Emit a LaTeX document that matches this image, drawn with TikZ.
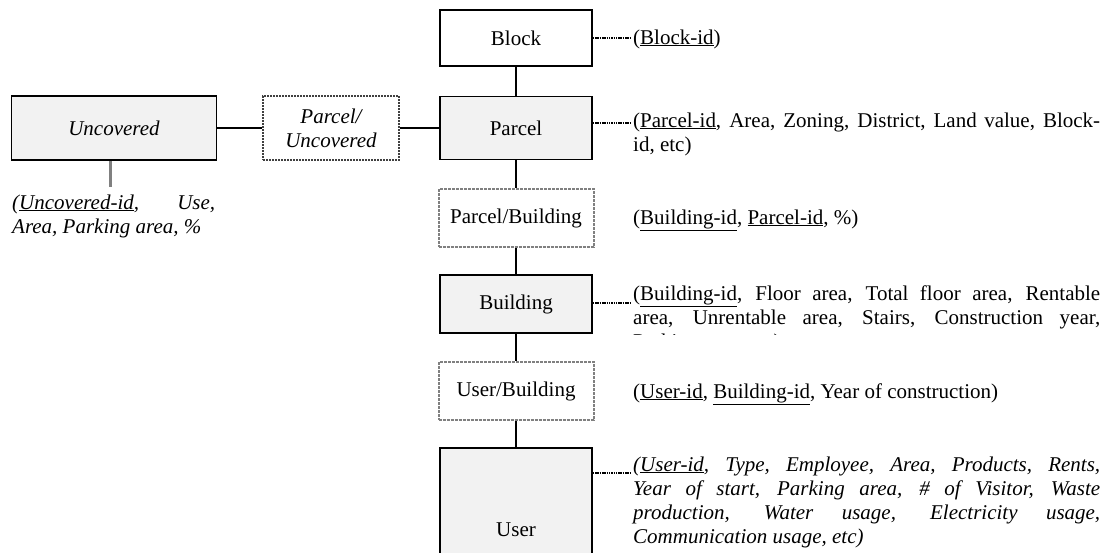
\documentclass[tikz,border=0pt]{standalone}
\usepackage{fontspec}
\setmainfont{Liberation Serif}

\newcommand{\diagfont}{\fontsize{21}{24}\selectfont}

\tikzset{
  entity/.style={draw, line width=1.6pt, fill=black!5, minimum width=152pt, minimum height=58pt, inner sep=0pt},
  relation/.style={draw=gray, dash pattern=on 3pt off 1pt, line width=2pt, fill=white, minimum width=155pt, minimum height=58pt, inner sep=0pt},
  attr/.style={inner sep=0pt, anchor=base west, text width=467pt, align=justify},
  link/.style={line width=1.6pt},
  attrlink/.style={line width=1.4pt, dash pattern=on 1.5pt off 0.8pt}
}

\begin{document}
\begin{tikzpicture}[x=1pt,y=-1pt,font=\diagfont]
\useasboundingbox (0,0) rectangle (1103,552);

% tables
\node [entity, fill=white, minimum height=56pt] (block) at (516,38) {Block};
\node [entity, minimum height=63pt] (parcel) at (516,128) {Parcel};
\node [relation] (parcelbuilding) at (516,218) {Parcel/Building};
\node [entity] (building) at (516,304) {Building};
\node [relation] (userbuilding) at (516,391) {User/Building};
\node [entity, minimum height=164pt] (user) at (516,530) {User};
\node [entity, minimum width=205pt, minimum height=64pt] (uncovered) at (114,128) {\itshape Uncovered};
\node [relation, draw=black!75, densely dotted, minimum width=136pt, minimum height=64pt, align=center] (parceluncovered) at (331,128) {\itshape Parcel/\\\itshape Uncovered};

% relations
\draw [link] (block) -- (parcel);
\draw [link] (parcel) -- (parcelbuilding);
\draw [link] (parcelbuilding) -- (building);
\draw [link] (building) -- (userbuilding);
\draw [link] (userbuilding) -- (user);
\draw [link] (uncovered) -- (parceluncovered);
\draw [link] (parceluncovered) -- (parcel);

% attributes
\node [attr] (blockattr) at (633,44) {(\underline{Block-id})};
\node [attr] (parcelattr) at (633,127) {(\underline{Parcel-id}, Area, Zoning, District, Land value, Block-\linebreak id, etc)};
\node [attr] (parcelbuildingattr) at (633,224) {(\underline{Building-id}, \underline{Parcel-id}, \%)};
\begin{scope}
\clip (600,270) rectangle (1103,334);
\node [attr] (buildingattr) at (633,300) {(\underline{Building-id}, Floor area, Total floor area, Rentable\linebreak area, Unrentable area, Stairs, Construction year,\linebreak Parking area, etc)};
\end{scope}
\node [attr] (userbuildingattr) at (633,398) {(\underline{User-id}, \underline{Building-id}, Year of construction)};
\node [attr, font=\diagfont\itshape] (userattr) at (633,471) {(\underline{User-id}, Type, Employee, Area, Products, Rents,\linebreak Year of start, Parking area, \# of Visitor, Waste\linebreak production, Water usage, Electricity usage,\linebreak Communication usage, etc)};
\node [attr, text width=203pt, font=\diagfont\itshape] (uncoveredattr) at (12,209) {\parfillskip=0pt (\underline{Uncovered-id}, Use,\linebreak Area, Parking area, \%};

% attribute links
\coordinate (blocklink) at (631,38);
\coordinate (parcellink) at (631,123);
\coordinate (buildinglink) at (631,303);
\coordinate (userlink) at (631,473);
\coordinate (uncoveredlink) at (110,187);
\draw [attrlink] (block.east |- blocklink) -- (blocklink);
\draw [attrlink] (parcel.east |- parcellink) -- (parcellink);
\draw [attrlink] (building.east |- buildinglink) -- (buildinglink);
\draw [attrlink] (user.east |- userlink) -- (userlink);
\draw [line width=3pt, gray] (uncovered.south -| uncoveredlink) -- (uncoveredlink);

\end{tikzpicture}
\end{document}
